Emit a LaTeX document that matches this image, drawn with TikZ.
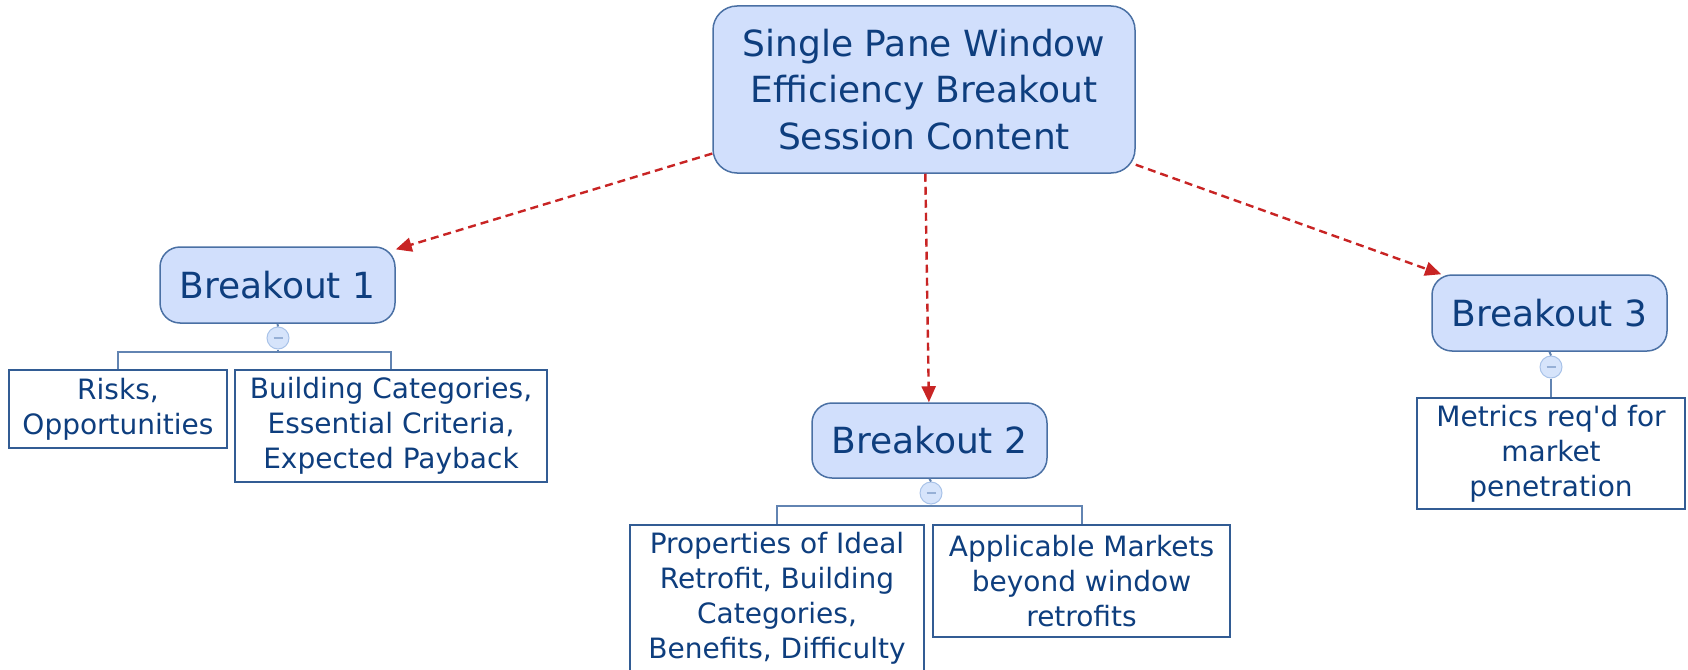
\documentclass[tikz,border=0pt]{standalone}
\usepackage{fontspec}
\setmainfont{DejaVu Sans}
\usetikzlibrary{arrows.meta}

\definecolor{inkblue}{RGB}{14,62,126}
\definecolor{topicfill}{RGB}{209,223,252}
\definecolor{topicline}{RGB}{74,112,164}
\definecolor{leafline}{RGB}{50,92,148}
\definecolor{branchline}{RGB}{98,132,178}
\definecolor{linkred}{RGB}{200,36,36}
\definecolor{knobfill}{RGB}{214,228,251}
\definecolor{knobline}{RGB}{168,194,232}
\definecolor{knobmark}{RGB}{150,176,214}

\tikzset{
  topic/.style={draw=topicline, line width=1.5pt, fill=topicfill,
    rounded corners=20pt, text=inkblue, align=center, inner sep=0pt,
    font=\fontsize{36}{46.5}\selectfont},
  leaf/.style={draw=leafline, line width=1.8pt, fill=white, text=inkblue,
    align=center, inner sep=0pt, font=\fontsize{28}{35}\selectfont},
  knob/.style={circle, draw=knobline, line width=1pt, fill=knobfill,
    minimum size=22pt, inner sep=0pt},
  branch/.style={draw=branchline, line width=2pt},
  link/.style={draw=linkred, line width=2.4pt, dash pattern=on 8pt off 5pt,
    -{Triangle[length=16pt,width=14pt]}},
  minus/.style={draw=knobmark, line width=1.5pt}
}

\begin{document}
\begin{tikzpicture}[x=1pt,y=-1pt]
\useasboundingbox (0,0) rectangle (1688,669);
\clip (0,0) rectangle (1688,669);

% central topic
\node[topic, rounded corners=24pt, minimum width=422pt, minimum height=167pt]
  (main) at (924,89.5) {Single Pane Window\\Efficiency Breakout\\Session Content};

% breakout topics
\node[topic, minimum width=235pt, minimum height=76pt] (b1) at (277.5,285) {Breakout 1};
\node[topic, minimum width=235pt, minimum height=75pt] (b2) at (929.5,440.5) {Breakout 2};
\node[topic, minimum width=235pt, minimum height=76pt] (b3) at (1549.5,313) {Breakout 3};

% leaves
\node[leaf, minimum width=218pt, minimum height=78pt] (risks) at (118,409)
  {Risks,\\Opportunities};
\node[leaf, minimum width=312pt, minimum height=112pt] (building) at (391,426)
  {Building Categories,\\Essential Criteria,\\Expected Payback};
\node[leaf, minimum width=294pt, minimum height=147pt] (props) at (777,598.5)
  {Properties of Ideal\\Retrofit, Building\\Categories,\\Benefits, Difficulty};
\node[leaf, minimum width=297pt, minimum height=112pt] (markets) at (1081.5,581)
  {Applicable Markets\\beyond window\\retrofits};
\node[leaf, minimum width=268pt, minimum height=111pt] (metrics) at (1551,453.5)
  {Metrics req\textquotesingle d for\\market\\penetration};

% collapse knobs
\node[knob] (k1) at (278,338) {};
\node[knob] (k2) at (931,493) {};
\node[knob] (k3) at (1551,367) {};
\foreach \k in {k1,k2,k3}
  \draw[minus] ([xshift=-4.5pt]\k.center) -- ([xshift=4.5pt]\k.center);

% tree connectors
\coordinate (j1) at (278,352);
\coordinate (j2) at (931,506);
\draw[branch] (b1.south) -- (k1.north);
\draw[branch] (k1.south) -- (j1) -| (risks.north);
\draw[branch] (j1) -| (building.north);
\draw[branch] (b2.south) -- (k2.north);
\draw[branch] (k2.south) -- (j2) -| (props.north);
\draw[branch] (j2) -| (markets.north);
\draw[branch] (b3.south) -- (k3.north);
\draw[branch] (k3.south) -- (metrics.north);

% relationship arrows
\draw[link] (main) -- (b1);
\draw[link] (main) -- (b2);
\draw[link] (main) -- (b3);
\end{tikzpicture}
\end{document}
